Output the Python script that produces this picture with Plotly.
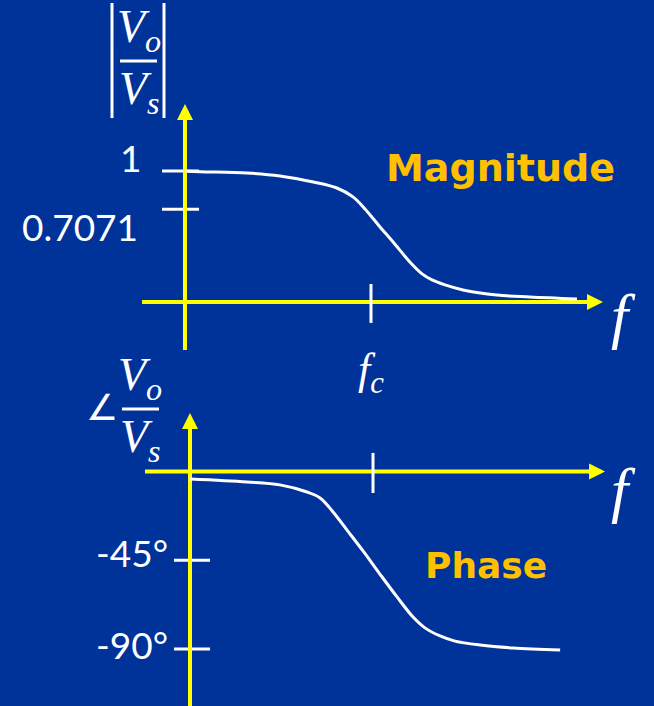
import math
import plotly.graph_objects as go

# ---- data -----------------------------------------------------------------
# frequencies are given as f / fc
mag_freq = [0.01, 0.0145, 0.046, 0.105, 0.24, 0.43, 0.64, 0.862, 1.25, 1.73,
            2.62, 3.54, 4.53, 6.25, 9.75, 22.6, 51.0, 164.0]
mag_value = [1.0, 0.995, 0.985, 0.962, 0.916, 0.870, 0.802, 0.710, 0.573, 0.458,
             0.305, 0.214, 0.168, 0.130, 0.092, 0.053, 0.038, 0.023]

phase_freq = [0.01, 0.042, 0.096, 0.19, 0.264, 0.366, 0.52, 0.778, 1.19, 1.83,
              2.74, 3.70, 5.40, 7.87, 14.8, 33.9, 111.0]
phase_deg = [-3.8, -5.3, -6.8, -10.4, -13.4, -20.5, -29.7, -40.3, -52.0, -63.6,
             -73.8, -79.3, -83.4, -86.0, -88.0, -89.5, -90.5]

mag_ticks = [1.0, 0.7071]
mag_tick_labels = ["1", "0.7071"]
phase_ticks = [-45, -90]
phase_tick_labels = ["-45°", "-90°"]
f_corner = 1.0
f_origin = 0.01

# ---- style ----------------------------------------------------------------
W, H = 654, 706
BG = "#003399"
YELLOW = "#FFFF00"
GOLD = "#FFC000"
WHITE = "#FFFFFF"
SPLIT = 0.4618
MATH = "Liberation Serif"
NUM = "Lato"


def px(x):
    return x / W


def py(y):
    return 1 - y / H


def dec(f, shift):
    """Frequency moved by a number of decades."""
    return 10 ** (math.log10(f) + shift)


fig = go.Figure()


def seg(x, y, color, width, ax="x", ay="y"):
    fig.add_trace(go.Scatter(x=x, y=y, mode="lines", xaxis=ax, yaxis=ay,
                             line=dict(color=color, width=width),
                             hoverinfo="skip", showlegend=False))


# value ticks on the vertical axes
for v in mag_ticks:
    seg([dec(f_origin, -0.247), dec(f_origin, 0.151)], [v, v], WHITE, 3)
for v in phase_ticks:
    seg([dec(f_origin, -0.175), dec(f_origin, 0.219)], [v, v], WHITE, 3, "x2", "y2")

# yellow axes (arrow heads are added as annotations)
seg([dec(f_origin, -0.462), dec(f_origin, 4.345)], [0, 0], YELLOW, 4)
seg([f_origin, f_origin], [-0.366, 1.40], YELLOW, 4)
seg([dec(f_origin, -0.492), dec(f_origin, 4.38)], [0, 0], YELLOW, 4, "x2", "y2")
seg([f_origin, f_origin], [-125, 23.0], YELLOW, 4, "x2", "y2")

# corner-frequency ticks
seg([f_corner, f_corner], [0.137, -0.160], WHITE, 3)
seg([f_corner, f_corner], [9.4, -10.9], WHITE, 3, "x2", "y2")

# response curves
fig.add_trace(go.Scatter(x=mag_freq, y=mag_value, mode="lines",
                         line=dict(color=WHITE, width=3, shape="spline", smoothing=1.0),
                         hoverinfo="skip", showlegend=False))
fig.add_trace(go.Scatter(x=phase_freq, y=phase_deg, mode="lines", xaxis="x2", yaxis="y2",
                         line=dict(color=WHITE, width=3, shape="spline", smoothing=1.0),
                         hoverinfo="skip", showlegend=False))

ann = []


def head(x, y, axo, ayo, xref="x", yref="y"):
    ann.append(dict(x=x, y=y, xref=xref, yref=yref, ax=axo, ay=ayo, text="",
                    showarrow=True, arrowhead=2, arrowsize=0.8, arrowwidth=4,
                    arrowcolor=YELLOW, standoff=0))


head(math.log10(f_origin) + 4.495, 0, -18, 0)
head(math.log10(f_origin), 1.511, 0, 18)
head(math.log10(f_origin) + 4.536, 0, -18, 0, "x2", "y2")
head(math.log10(f_origin), 29.67, 0, 18, "x2", "y2")


def text(t, x, y, size, family=MATH, color=WHITE, **kw):
    d = dict(text=t, x=x, y=y, xref="paper", yref="paper", showarrow=False,
             xanchor="center", yanchor="middle",
             font=dict(family=family, size=size, color=color))
    d.update(kw)
    ann.append(d)


# |Vo/Vs|
text("<i>V</i><sub><i>o</i></sub>", px(139), py(30), 46)
text("<i>V</i><sub><i>s</i></sub>", px(139), py(92), 46)
# angle Vo/Vs
text("∠", px(102), py(407), 36, family="DejaVu Sans")
text("<i>V</i><sub><i>o</i></sub>", px(140), py(378), 46)
text("<i>V</i><sub><i>s</i></sub>", px(140), py(440), 46)

# frequency labels
text("<i>f</i><sub><i>c</i></sub>", math.log10(f_corner), py(372), 44, xref="x")
text("<i>f</i>", px(623), py(316), 62)
text("<i>f</i>", px(623), py(490), 62)

# plot titles
text("<b>Magnitude</b>", px(500), py(168), 38, family="DejaVu Sans", color=GOLD)
text("<b>Phase</b>", px(486), py(565), 36, family="DejaVu Sans", color=GOLD)

# value tick labels
for v, lab, xr, sh in zip(mag_ticks, mag_tick_labels, [143, 140], [13, -17]):
    ann.append(dict(text=lab, x=px(xr), y=v, xref="paper", yref="y", yshift=sh,
                    showarrow=False, xanchor="right", yanchor="middle",
                    font=dict(family=NUM, size=37, color=WHITE)))
for v, lab, xr, sh in zip(phase_ticks, phase_tick_labels, [170, 170], [8, 4]):
    ann.append(dict(text=lab, x=px(xr), y=v, xref="paper", yref="y2", yshift=sh,
                    showarrow=False, xanchor="right", yanchor="middle",
                    font=dict(family=NUM, size=37, color=WHITE)))

shapes = []


def line(x0, y0, x1, y1):
    shapes.append(dict(type="line", xref="paper", yref="paper",
                       x0=px(x0), y0=py(y0), x1=px(x1), y1=py(y1),
                       line=dict(color=WHITE, width=3)))


# fraction bars and magnitude bars
line(120, 61, 157, 61)
line(112, 3, 112, 118)
line(164, 3, 164, 118)
line(122, 409, 159, 409)

fig.update_layout(
    width=W, height=H,
    margin=dict(l=0, r=0, t=0, b=0),
    paper_bgcolor=BG, plot_bgcolor=BG,
    showlegend=False,
    annotations=ann, shapes=shapes,
    xaxis=dict(type="log", range=[-3.989, 3.043], domain=[0, 1], anchor="y", visible=False),
    yaxis=dict(range=[-0.5954, 2.3053], domain=[SPLIT, 1], anchor="x", visible=False),
    xaxis2=dict(type="log", range=[-4.0765, 3.071], domain=[0, 1], anchor="y2", visible=False),
    yaxis2=dict(range=[-118.91, 46.40], domain=[0, SPLIT], anchor="x2", visible=False),
)

fig.write_html("out.html")
